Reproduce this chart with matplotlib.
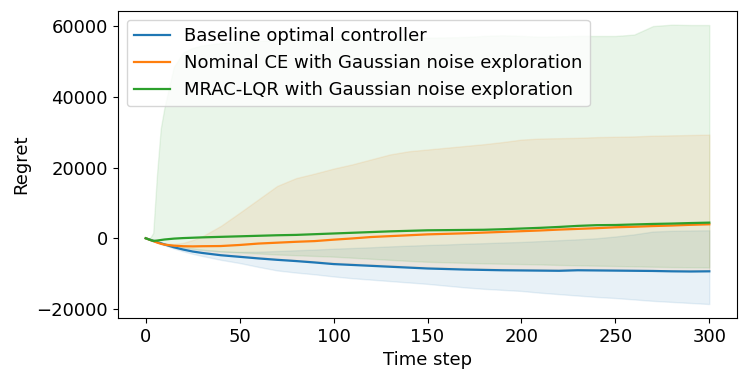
import matplotlib
matplotlib.use("Agg")
import matplotlib.pyplot as plt
import numpy as np

steps = [0, 2, 4, 6, 8, 10, 15, 20, 25, 30, 40, 50, 60, 70, 80, 90, 100, 110, 120,
         130, 140, 150, 160, 170, 180, 190, 200, 210, 220, 230, 240, 250, 260, 270,
         280, 290, 300]

# Baseline optimal controller
base_mean = [0, -350, -700, -1050, -1400, -1750, -2550, -3200, -3750, -4150, -4800,
             -5250, -5700, -6100, -6450, -6850, -7300, -7550, -7800, -8050, -8300,
             -8550, -8700, -8850, -8950, -9050, -9100, -9150, -9200, -9050, -9100,
             -9150, -9200, -9250, -9350, -9400, -9350]
base_low = [0, -400, -800, -1200, -1600, -2000, -2900, -3700, -4400, -5000, -6100,
            -7000, -8100, -9100, -9700, -10200, -10800, -11300, -11700, -12100, -12500,
            -12900, -13400, -13900, -14300, -14600, -14900, -15400, -15800, -16200,
            -16600, -16900, -17300, -17700, -18000, -18300, -18600]
base_high = [0, -300, -600, -900, -1200, -1500, -2100, -2600, -3000, -3300, -3700,
             -3850, -3800, -3600, -3400, -3200, -2950, -2750, -2550, -2300, -2100,
             -1900, -1750, -1550, -1400, -1200, -1050, -800, -550, -300, 0, 500, 1100,
             1900, 2100, 2200, 2250]

# Nominal CE with Gaussian noise exploration
ce_mean = [0, -400, -800, -1200, -1550, -1800, -2100, -2250, -2300, -2250, -2200,
           -1900, -1500, -1250, -1000, -800, -400, -50, 350, 600, 850, 1100, 1250,
           1400, 1600, 1800, 2000, 2200, 2450, 2650, 2850, 3100, 3250, 3450, 3600,
           3800, 3950]
ce_low = [0, -380, -750, -1100, -1450, -1800, -2550, -3150, -3650, -4000, -4600,
          -5000, -5400, -5800, -6150, -6500, -6900, -7150, -7400, -7650, -7900, -8150,
          -8300, -8450, -8600, -8700, -8800, -8850, -8900, -8800, -8850, -8900, -8950,
          -9000, -9100, -9150, -9100]
ce_high = [0, -350, -700, -1000, -1300, -1500, -1600, -1300, -500, 500, 3500, 7200,
           11000, 14800, 17000, 18300, 19700, 20900, 22300, 23700, 24600, 25100, 25600,
           26100, 26600, 27200, 27900, 28200, 28300, 28400, 28600, 28700, 28800, 29000,
           29100, 29200, 29300]

# MRAC-LQR with Gaussian noise exploration
mrac_mean = [0, -400, -750, -650, -500, -350, -100, 50, 150, 250, 400, 550, 700, 850,
             950, 1150, 1350, 1550, 1750, 1950, 2100, 2250, 2300, 2350, 2400, 2550,
             2750, 2950, 3200, 3500, 3700, 3750, 3900, 4050, 4150, 4300, 4420]
mrac_low = [0, -450, -900, -1100, -1300, -1500, -2000, -2500, -2900, -3200, -3700,
            -4000, -4300, -4600, -4800, -5000, -5200, -5500, -5800, -6100, -6400, -6650,
            -6800, -6950, -7100, -7200, -7300, -7400, -7550, -7650, -7750, -7850, -7950,
            -8050, -8150, -8200, -8250]
mrac_high = [0, -200, 1500, 18000, 31000, 37000, 48500, 52500, 53800, 54500, 55200,
             55600, 55800, 56000, 56100, 56200, 56300, 56300, 56400, 56500, 56600,
             56700, 56800, 56900, 57200, 57400, 57200, 57000, 57100, 57200, 57200,
             57200, 57600, 60000, 60400, 60300, 60300]

labels = ["Baseline optimal controller",
          "Nominal CE with Gaussian noise exploration",
          "MRAC-LQR with Gaussian noise exploration"]

plt.rcParams["font.size"] = 13
fig = plt.figure(figsize=(7.5, 3.77), dpi=100)
ax = fig.add_axes([0.1567, 0.1565, 0.8266, 0.8151])

series = [(base_mean, base_low, base_high, "C0"),
          (ce_mean, ce_low, ce_high, "C1"),
          (mrac_mean, mrac_low, mrac_high, "C2")]
for (m, lo, hi, c), lab in zip(series, labels):
    ax.plot(steps, m, color=c, label=lab, lw=1.6)
    ax.fill_between(steps, lo, hi, color=c, alpha=0.1)

ax.set_xlabel("Time step")
ax.set_ylabel("Regret")
ax.set_xticks([0, 50, 100, 150, 200, 250, 300])
ax.set_yticks([-20000, 0, 20000, 40000, 60000])
ax.legend(loc="upper left")

fig.savefig("out.png", dpi=100)
